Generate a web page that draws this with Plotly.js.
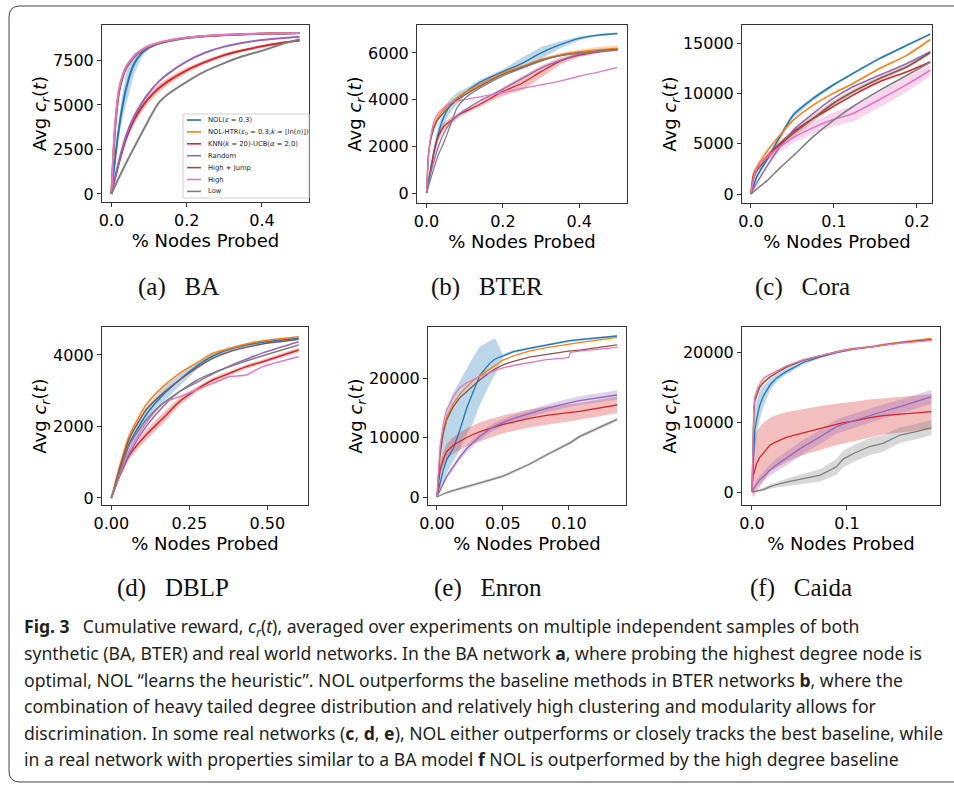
<!DOCTYPE html>
<html><head><meta charset="utf-8">
<script src="https://cdn.plot.ly/plotly-3.0.1.min.js"></script>
<style>html,body{margin:0;padding:0;background:#fff;}#chart{width:954px;height:786px;}</style>
</head><body><div id="chart"></div>
<script>
// ---------------- DATA ----------------
const SERIES = ['NOL(ε = 0.3)', 'NOL-HTR(ε0 = 0.3,k = ⌊ln(n)⌋)', 'KNN(k = 20)-UCB(α = 2.0)', 'Random', 'High + Jump', 'High', 'Low'];
const LEGEND_LABELS = ['NOL(<i>ε</i> = 0.3)', 'NOL-HTR(<i>ε</i><sub>0</sub> = 0.3,<i>k</i> = ⌊ln(<i>n</i>)⌋)', 'KNN(<i>k</i> = 20)-UCB(<i>α</i> = 2.0)', 'Random', 'High + Jump', 'High', 'Low'];
const PANEL_LABELS = ['(a)\u2002\u2005BA', '(b)\u2002\u2005BTER', '(c)\u2002\u2005Cora', '(d)\u2002\u2005DBLP', '(e)\u2002\u2005Enron', '(f)\u2002\u2005Caida'];
const X_TITLE = '% Nodes Probed';
const Y_TITLE = 'Avg <i>c</i><sub><i>r</i></sub>(<i>t</i>)';

// (a) BA
const xA = [0, 0.005, 0.01, 0.02, 0.03, 0.04, 0.06, 0.08, 0.1, 0.125, 0.15, 0.2, 0.25, 0.3, 0.35, 0.4, 0.45, 0.5];
const aNOL  = [0, 1000, 2000, 3700, 5000, 6000, 7300, 7900, 8220, 8440, 8580, 8770, 8860, 8930, 8970, 9000, 9020, 9040];
const aHTR  = [0, 2100, 3800, 5750, 6600, 7120, 7700, 8060, 8300, 8480, 8600, 8780, 8870, 8930, 8970, 9000, 9020, 9040];
const aKNN  = [0, 480, 880, 1750, 2500, 3180, 4150, 4850, 5400, 5920, 6330, 6950, 7420, 7800, 8080, 8300, 8480, 8620];
const aRand = [0, 500, 950, 1850, 2650, 3350, 4350, 5100, 5700, 6300, 6750, 7450, 7950, 8280, 8500, 8650, 8750, 8830];
const aHJ   = [0, 2000, 3700, 5700, 6550, 7100, 7680, 8050, 8300, 8480, 8600, 8780, 8870, 8930, 8970, 9000, 9020, 9040];
const aHigh = [0, 2300, 4000, 5900, 6700, 7200, 7750, 8100, 8330, 8500, 8620, 8790, 8880, 8940, 8980, 9010, 9030, 9050];
const aLow  = [0, 230, 460, 920, 1350, 1780, 2600, 3400, 4200, 5100, 5600, 6300, 6900, 7350, 7750, 8050, 8400, 8700];
const aNOLErr = [0, 150, 300, 500, 700, 900, 600, 200, 80, 50, 40, 30, 30, 30, 30, 30, 30, 30];
const aKNNErr = [0, 50, 80, 150, 200, 230, 250, 250, 250, 230, 200, 150, 120, 100, 80, 70, 60, 60];
const aXTicks = [0, 0.2, 0.4], aXText = ['0.0', '0.2', '0.4'];
const aYTicks = [0, 2500, 5000, 7500], aYText = ['0', '2500', '5000', '7500'];

// (b) BTER
const xB = [0, 0.005, 0.01, 0.02, 0.03, 0.045, 0.06, 0.08, 0.1, 0.14, 0.2, 0.25, 0.3, 0.35, 0.4, 0.45, 0.5];
const bNOL  = [0, 550, 1000, 1800, 2500, 3250, 3700, 4050, 4300, 4750, 5200, 5550, 6000, 6350, 6620, 6760, 6830];
const bHTR  = [0, 1700, 2300, 2900, 3250, 3570, 3800, 4080, 4300, 4650, 5150, 5420, 5720, 5920, 6050, 6140, 6200];
const bKNN  = [0, 400, 850, 1800, 2400, 2850, 3050, 3300, 3480, 3800, 4350, 4700, 5200, 5650, 5900, 6050, 6150];
const bRand = [0, 400, 800, 1400, 1950, 2550, 2950, 3300, 3550, 3950, 4450, 4900, 5350, 5680, 5950, 6060, 6120];
const bHJ   = [0, 1600, 2200, 2800, 3150, 3450, 3700, 3980, 4200, 4580, 5080, 5380, 5680, 5880, 6000, 6090, 6150];
const bHigh = [0, 1500, 2300, 3100, 3400, 3650, 3850, 3950, 4000, 4120, 4300, 4480, 4630, 4790, 5000, 5180, 5380];
const bLow  = [0, 300, 550, 1100, 1600, 2150, 2800, 3650, 4050, 4500, 5020, 5350, 5650, 5880, 5990, 6070, 6130];
const bNOLErr = [0, 100, 200, 300, 350, 350, 300, 250, 150, 100, 100, 250, 250, 150, 80, 50, 40];
const bKNNErr = [0, 50, 100, 150, 150, 150, 150, 120, 100, 100, 180, 300, 250, 150, 80, 60, 60];
const bHTRErr = [0, 50, 80, 100, 100, 80, 60, 50, 50, 50, 50, 50, 60, 80, 100, 120, 130];
const bXTicks = [0, 0.2, 0.4], bXText = ['0.0', '0.2', '0.4'];
const bYTicks = [0, 2000, 4000, 6000], bYText = ['0', '2000', '4000', '6000'];

// (c) Cora
const xC = [0, 0.003, 0.007, 0.019, 0.035, 0.051, 0.075, 0.099, 0.123, 0.155, 0.188, 0.216];
const cNOL  = [0, 800, 1720, 3380, 5700, 7850, 9500, 10830, 11990, 13480, 14800, 15890];
const cHTR  = [0, 2000, 2700, 4200, 5860, 7350, 8840, 10000, 10990, 12480, 13810, 15360];
const cKNN  = [0, 1800, 2500, 3700, 5030, 6190, 7520, 8680, 9830, 11160, 12150, 13150];
const cRand = [0, 500, 1100, 2720, 4700, 6360, 8010, 9500, 10660, 11820, 12980, 14140];
const cHJ   = [0, 1500, 2300, 3540, 4870, 6030, 7520, 9000, 10170, 11490, 12650, 14070];
const cHigh = [0, 1500, 2500, 3600, 4700, 5600, 6600, 7400, 8000, 9400, 10900, 12300];
const cLow  = [0, 200, 500, 1300, 2600, 3800, 5700, 7300, 8700, 10300, 11800, 13100];
const cHighErr = [0, 200, 300, 400, 500, 500, 600, 700, 800, 800, 700, 600];
const cNOLErr  = [0, 100, 200, 300, 350, 300, 200, 150, 100, 100, 100, 100];
const cHJErr   = [0, 100, 150, 250, 300, 350, 350, 300, 250, 250, 200, 200];
const cXTicks = [0, 0.1, 0.2], cXText = ['0.0', '0.1', '0.2'];
const cYTicks = [0, 5000, 10000, 15000], cYText = ['0', '5000', '10000', '15000'];

// (d) DBLP
const xD = [0, 0.026, 0.058, 0.111, 0.165, 0.218, 0.271, 0.325, 0.378, 0.432, 0.485, 0.6];
const dNOL  = [0, 700, 1529, 2322, 2881, 3300, 3674, 3972, 4158, 4280, 4354, 4466];
const dHTR  = [0, 876, 1762, 2600, 3114, 3487, 3767, 4047, 4186, 4308, 4401, 4513];
const dKNN  = [0, 600, 1203, 1762, 2228, 2695, 3021, 3300, 3487, 3674, 3813, 4140];
const dRand = [0, 620, 1249, 1995, 2555, 2974, 3220, 3470, 3690, 3880, 4060, 4373];
const dHJ   = [0, 800, 1669, 2462, 2928, 3300, 3627, 3907, 4093, 4214, 4308, 4438];
const dHigh = [0, 650, 1342, 2089, 2648, 2834, 3021, 3207, 3394, 3440, 3674, 3953];
const dLow  = [0, 700, 1482, 2182, 2648, 2974, 3280, 3500, 3670, 3830, 3980, 4280];
const dNOLErr = [0, 50, 120, 200, 200, 160, 100, 60, 40, 40, 40, 40];
const dKNNErr = [0, 50, 100, 150, 150, 110, 80, 60, 60, 60, 60, 60];
const dXTicks = [0, 0.25, 0.5], dXText = ['0.00', '0.25', '0.50'];
const dYTicks = [0, 2000, 4000], dYText = ['0', '2000', '4000'];

// (e) Enron
const xE = [0, 0.001, 0.0023, 0.0048, 0.0073, 0.0124, 0.0174, 0.0225, 0.0275, 0.0326, 0.04, 0.044, 0.05, 0.058, 0.07, 0.083, 0.096, 0.1, 0.101, 0.108, 0.1366];
const eNOL  = [0, 800, 2300, 4540, 6220, 8180, 11260, 14900, 17700, 20500, 22460, 23200, 23700, 24430, 24990, 25550, 26100, 26250, 26280, 26450, 27060];
const eNOLLo = [0, 400, 1000, 2300, 4000, 6000, 8000, 10500, 12500, 15500, 19000, 20500, 23400, 24200, 24800, 25350, 25900, 26050, 26080, 26250, 26900];
const eNOLHi = [0, 1500, 5000, 10000, 14500, 17500, 19500, 21500, 23500, 25300, 26300, 26700, 24000, 24650, 25200, 25750, 26300, 26450, 26480, 26650, 27200];
const eHTR  = [0, 3500, 7340, 11260, 13500, 15700, 17300, 18500, 19600, 20400, 21500, 22100, 23000, 23700, 24500, 25100, 25600, 25750, 25780, 25950, 26830];
const eKNN  = [0, 2500, 4500, 6400, 7620, 8700, 9400, 10000, 10500, 11000, 11500, 11800, 12200, 12600, 13200, 13700, 14100, 14200, 14220, 14400, 15460];
const eRand = [0, 500, 1200, 2300, 3420, 5100, 6700, 8100, 9200, 10200, 11400, 11900, 12500, 13200, 14000, 14900, 15600, 15800, 15850, 16200, 17140];
const eHJ   = [0, 3200, 6780, 10700, 12940, 15180, 16700, 17700, 18700, 19700, 20900, 21500, 22200, 22800, 23500, 24000, 24400, 24500, 24520, 24700, 25550];
const eHigh = [0, 4000, 8460, 12380, 14620, 16900, 18400, 19200, 19750, 20250, 20900, 21200, 21700, 22100, 22600, 23100, 23350, 23450, 24300, 24500, 25150];
const eLow  = [0, 100, 250, 500, 750, 1100, 1400, 1700, 2000, 2300, 2800, 3100, 3500, 4260, 5500, 7060, 8600, 9000, 9100, 10140, 13050];
const eKNNErr  = [0, 500, 900, 1200, 1300, 1400, 1500, 1500, 1550, 1550, 1550, 1550, 1500, 1500, 1500, 1450, 1450, 1450, 1450, 1400, 1400];
const eRandErr = [0, 100, 200, 300, 400, 500, 550, 600, 600, 600, 600, 600, 600, 600, 600, 650, 700, 700, 700, 750, 800];
const eLowErr  = [0, 50, 80, 100, 150, 200, 250, 250, 250, 250, 250, 250, 250, 250, 250, 300, 300, 300, 300, 300, 300];
const eXTicks = [0, 0.05, 0.1], eXText = ['0.00', '0.05', '0.10'];
const eYTicks = [0, 10000, 20000], eYText = ['0', '10000', '20000'];

// (f) Caida
const xF = [0, 0.001, 0.002, 0.003, 0.005, 0.008, 0.012, 0.019, 0.026, 0.036, 0.054, 0.072, 0.089, 0.096, 0.107, 0.124, 0.138, 0.156, 0.173, 0.189];
const fNOL  = [0, 3000, 5500, 8860, 10500, 12300, 13700, 15290, 16300, 17200, 18500, 19300, 19900, 20100, 20400, 20700, 21000, 21350, 21550, 21750];
const fHTR  = [0, 7000, 11700, 13140, 14000, 15050, 15700, 16480, 17100, 17900, 18860, 19500, 20050, 20250, 20500, 20760, 21100, 21450, 21700, 21950];
const fKNN  = [0, 2300, 2670, 3100, 4100, 4900, 5520, 6710, 7190, 7800, 8450, 9100, 9710, 9900, 10140, 10620, 10900, 11150, 11300, 11480];
const fKNNLo = [0, -700, -600, -500, 0, 700, 1600, 2900, 3500, 4300, 5300, 6000, 6700, 6900, 7200, 7800, 8200, 8500, 8700, 8900];
const fKNNHi = [0, 4500, 6000, 7500, 8500, 9300, 9900, 10600, 11000, 11400, 11900, 12300, 12600, 12750, 12900, 13200, 13400, 13600, 13800, 14000];
const fRand = [0, 300, 500, 760, 1200, 1700, 2190, 3140, 3900, 4800, 6480, 7900, 9330, 9700, 10200, 10900, 11500, 12190, 12900, 13620];
const fHJ   = [0, 7000, 11500, 13000, 13900, 14900, 15600, 16400, 17000, 17800, 18800, 19450, 20000, 20200, 20450, 20700, 21000, 21350, 21550, 21750];
const fHigh = [0, 8000, 12300, 13600, 14500, 15400, 16240, 16800, 17300, 18000, 18900, 19500, 20000, 20200, 20400, 20650, 20950, 21250, 21450, 21650];
const fLow  = [0, 20, 50, 80, 130, 220, 350, 760, 1050, 1400, 1900, 2400, 3600, 4700, 5500, 6500, 6950, 8140, 8620, 9190];
const fNOLErr  = [0, 1500, 2500, 3000, 2500, 2000, 1500, 800, 500, 400, 300, 200, 150, 150, 150, 150, 150, 150, 150, 150];
const fRandErr = [0, 200, 300, 400, 500, 600, 700, 800, 900, 1000, 1000, 1000, 1000, 1000, 1000, 1000, 1000, 1000, 1000, 1000];
const fLowErr  = [0, 50, 100, 100, 150, 200, 250, 300, 400, 500, 700, 900, 1100, 1200, 1200, 1200, 1200, 1100, 1100, 1100];
const fXTicks = [0, 0.1], fXText = ['0.0', '0.1'];
const fYTicks = [0, 10000, 20000], fYText = ['0', '10000', '20000'];

const CAPTION_LINES = [
  '<b>Fig. 3</b>\u2002\u2005Cumulative reward, <i>c<sub>r</sub></i>(<i>t</i>), averaged over experiments on multiple independent samples of both',
  'synthetic (BA, BTER) and real world networks. In the BA network <b>a</b>, where probing the highest degree node is',
  'optimal, NOL “learns the heuristic”. NOL outperforms the baseline methods in BTER networks <b>b</b>, where the',
  'combination of heavy tailed degree distribution and relatively high clustering and modularity allows for',
  'discrimination. In some real networks (<b>c</b>, <b>d</b>, <b>e</b>), NOL either outperforms or closely tracks the best baseline, while',
  'in a real network with properties similar to a BA model <b>f</b> NOL is outperformed by the high degree baseline'
];

// ---------------- STYLE / BUILD ----------------
const W = 954, H = 786;
const COL = ['#1f77b4', '#ff7f0e', '#d62728', '#9467bd', '#8c564b', '#e377c2', '#7f7f7f'];
const FILL = ['rgba(31,119,180,0.3)', 'rgba(255,127,14,0.3)', 'rgba(214,39,40,0.3)', 'rgba(148,103,189,0.3)', 'rgba(140,86,75,0.3)', 'rgba(227,119,194,0.3)', 'rgba(127,127,127,0.3)'];
const px = v => v / W, py = v => 1 - v / H;

const traces = [];
function band(x, lo, hi, ci, s) {
  traces.push({x: x.concat(x.slice().reverse()), y: hi.concat(lo.slice().reverse()), fill: 'toself',
    fillcolor: FILL[ci], line: {width: 0}, mode: 'lines', hoverinfo: 'skip', showlegend: false,
    xaxis: 'x' + s, yaxis: 'y' + s});
}
function bandErr(x, y, e, ci, s) {
  band(x, y.map((v, i) => v - e[i]), y.map((v, i) => v + e[i]), ci, s);
}
function lines(x, ys, s, w, smooth) {
  ys.forEach((y, i) => traces.push({x: x, y: y, mode: 'lines', name: SERIES[i],
    line: smooth ? {color: COL[i], width: w, shape: 'spline', smoothing: 0.6} : {color: COL[i], width: w},
    showlegend: false, xaxis: 'x' + s, yaxis: 'y' + s}));
}

// panel a
bandErr(xA, aNOL, aNOLErr, 0, ''); bandErr(xA, aKNN, aKNNErr, 2, '');
lines(xA, [aNOL, aHTR, aKNN, aRand, aHJ, aHigh, aLow], '', 2, true);
// panel b
bandErr(xB, bNOL, bNOLErr, 0, '2'); bandErr(xB, bHTR, bHTRErr, 1, '2'); bandErr(xB, bKNN, bKNNErr, 2, '2');
lines(xB, [bNOL, bHTR, bKNN, bRand, bHJ, bHigh, bLow], '2', 1.3, true);
// panel c
bandErr(xC, cNOL, cNOLErr, 0, '3'); bandErr(xC, cHJ, cHJErr, 4, '3'); bandErr(xC, cHigh, cHighErr, 5, '3');
lines(xC, [cNOL, cHTR, cKNN, cRand, cHJ, cHigh, cLow], '3', 1.6, true);
// panel d
bandErr(xD, dNOL, dNOLErr, 0, '4'); bandErr(xD, dKNN, dKNNErr, 2, '4');
lines(xD, [dNOL, dHTR, dKNN, dRand, dHJ, dHigh, dLow], '4', 1.5, true);
// panel e
band(xE, eNOLLo, eNOLHi, 0, '5'); bandErr(xE, eKNN, eKNNErr, 2, '5'); bandErr(xE, eRand, eRandErr, 3, '5'); bandErr(xE, eLow, eLowErr, 6, '5');
lines(xE, [eNOL, eHTR, eKNN, eRand, eHJ, eHigh, eLow], '5', 1.3, false);
// panel f
bandErr(xF, fNOL, fNOLErr, 0, '6'); band(xF, fKNNLo, fKNNHi, 2, '6'); bandErr(xF, fRand, fRandErr, 3, '6'); bandErr(xF, fLow, fLowErr, 6, '6');
lines(xF, [fNOL, fHTR, fKNN, fRand, fHJ, fHigh, fLow], '6', 1.3, false);

const TICKFONT = {family: 'DejaVu Sans', size: 16, color: '#000'};
const TITLEFONT = {family: 'DejaVu Sans', size: 18, color: '#000'};
function axis(dom, range, vals, text, anchor, title) {
  return {domain: dom, range: range, anchor: anchor, tickmode: 'array', tickvals: vals, ticktext: text,
    showline: true, mirror: true, linecolor: '#333', linewidth: 1, ticks: 'outside', ticklen: 4,
    tickcolor: '#333', tickwidth: 1, showgrid: false, zeroline: false, tickfont: TICKFONT,
    automargin: false, fixedrange: true,
    title: {text: title, font: TITLEFONT, standoff: 0}};
}
const layout = {
  width: W, height: H, margin: {l: 0, r: 0, t: 0, b: 0}, paper_bgcolor: '#fff', plot_bgcolor: '#fff',
  showlegend: false,
  xaxis:  axis([px(102), px(309)], [-0.025, 0.525], aXTicks, aXText, 'y', X_TITLE),
  yaxis:  axis([py(202), py(25)], [-450, 9494], aYTicks, aYText, 'x', Y_TITLE),
  xaxis2: axis([px(417), px(627)], [-0.025, 0.525], bXTicks, bXText, 'y2', X_TITLE),
  yaxis2: axis([py(203), py(25)], [-428, 7195], bYTicks, bYText, 'x2', Y_TITLE),
  xaxis3: axis([px(742), px(932)], [-0.0108, 0.2181], cXTicks, cXText, 'y3', X_TITLE),
  yaxis3: axis([py(203), py(25)], [-895, 16800], cYTicks, cYText, 'x3', Y_TITLE),
  xaxis4: axis([px(102), px(308)], [-0.03, 0.63], dXTicks, dXText, 'y4', X_TITLE),
  yaxis4: axis([py(505), py(327)], [-196, 4783], dYTicks, dYText, 'x4', Y_TITLE),
  xaxis5: axis([px(428), px(626)], [-0.0068, 0.1434], eXTicks, eXText, 'y5', X_TITLE),
  yaxis5: axis([py(505), py(327)], [-1345, 28571], eYTicks, eYText, 'x5', Y_TITLE),
  xaxis6: axis([px(742), px(940)], [-0.0105, 0.198], fXTicks, fXText, 'y6', X_TITLE),
  yaxis6: axis([py(505), py(327)], [-1857, 23571], fYTicks, fYText, 'x6', Y_TITLE),
  shapes: [], annotations: []
};

// figure frame (rounded left corners, open to the right)
const P = (x, y) => px(x) + ',' + py(y);
layout.shapes.push({type: 'path', xref: 'paper', yref: 'paper', layer: 'below',
  path: 'M' + P(954, 6) + ' L' + P(20, 6) + ' Q' + P(9, 6) + ' ' + P(9, 17) + ' L' + P(9, 771) + ' Q' + P(9, 782) + ' ' + P(20, 782) + ' L' + P(954, 782),
  line: {color: '#444', width: 1}});

// legend in panel (a)
layout.shapes.push({type: 'rect', xref: 'paper', yref: 'paper', x0: px(183), x1: px(309), y0: py(198), y1: py(114),
  fillcolor: 'rgba(255,255,255,0.85)', line: {color: '#d0d0d0', width: 1}, layer: 'above'});
LEGEND_LABELS.forEach((lab, i) => {
  const yy = 120 + i * 11.9;
  layout.shapes.push({type: 'line', xref: 'paper', yref: 'paper', x0: px(187), x1: px(201), y0: py(yy), y1: py(yy),
    line: {color: COL[i], width: 1.6}, layer: 'above'});
  layout.annotations.push({xref: 'paper', yref: 'paper', x: px(206), y: py(yy), xanchor: 'left', yanchor: 'middle',
    text: lab, showarrow: false, font: {family: 'DejaVu Sans', size: 6.8, color: '#222'}});
});

// sub-captions
const SUBPOS = [[178, 287], [487, 287], [802, 287], [173, 588], [488, 588], [801, 588]];
PANEL_LABELS.forEach((t, i) => layout.annotations.push({xref: 'paper', yref: 'paper', x: px(SUBPOS[i][0]), y: py(SUBPOS[i][1]),
  xanchor: 'center', yanchor: 'middle', text: t, showarrow: false, font: {family: 'Liberation Serif', size: 25, color: '#111'}}));

// figure caption
CAPTION_LINES.forEach((t, i) => layout.annotations.push({xref: 'paper', yref: 'paper', x: px(22), y: py(627 + i * 26.4),
  xanchor: 'left', yanchor: 'middle', align: 'left', text: t, showarrow: false,
  font: {family: 'Noto Sans', size: 17.6, color: '#231f20'}}));

Plotly.newPlot('chart', traces, layout, {displayModeBar: false, staticPlot: true});
</script></body></html>
